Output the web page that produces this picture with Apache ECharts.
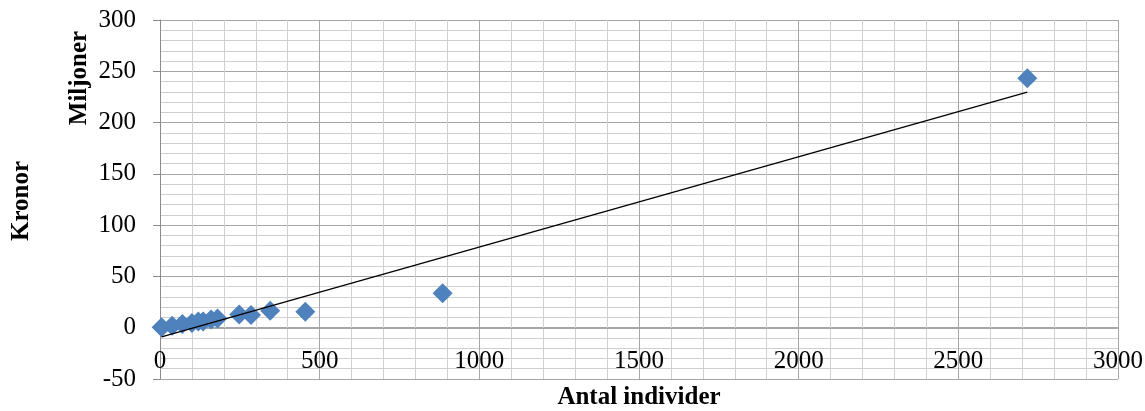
<!DOCTYPE html>
<html>
<head>
<meta charset="utf-8">
<script src="https://cdn.jsdelivr.net/npm/echarts@6/dist/echarts.min.js"></script>
<style>
  html, body { margin: 0; padding: 0; background: #fff; }
  #chart { width: 1145px; height: 411px; }
</style>
</head>
<body>
<div id="chart"></div>
<script>
// Number of individuals vs. cost (million SEK)
const individer = [5, 38, 70, 100, 120, 135, 160, 180, 248, 285, 345, 455, 885, 2716];
const kronorMiljoner = [0.5, 2, 3.5, 4.5, 6, 6, 8, 9, 13, 12.5, 16.5, 15.5, 33.6, 243.2];
const xTicks = [0, 500, 1000, 1500, 2000, 2500, 3000];
const yTicks = [-50, 0, 50, 100, 150, 200, 250, 300];

// Least-squares linear trendline over the same points
function linearFit(xs, ys) {
  const n = xs.length;
  const mx = xs.reduce((a, b) => a + b, 0) / n;
  const my = ys.reduce((a, b) => a + b, 0) / n;
  let sxy = 0, sxx = 0;
  for (let i = 0; i < n; i++) {
    sxy += (xs[i] - mx) * (ys[i] - my);
    sxx += (xs[i] - mx) * (xs[i] - mx);
  }
  const k = sxy / sxx;
  return { k: k, m: my - k * mx };
}
const fit = linearFit(individer, kronorMiljoner);
const xMin = Math.min(...individer), xMax = Math.max(...individer);
const trend = [[xMin, fit.k * xMin + fit.m], [xMax, fit.k * xMax + fit.m]];

const points = individer.map((x, i) => [x, kronorMiljoner[i]]);

const FONT = 'Liberation Serif, Times New Roman, serif';
const majorLine = { show: true, lineStyle: { color: '#a6a6a6', width: 1 } };
const minorLine = { show: true, lineStyle: { color: '#d0d0d0', width: 1 } };

// plot area geometry; the horizontal axis sits on y = 0
const GRID = { left: 160, right: 27, top: 20, bottom: 32 };
const plotH = 411 - GRID.top - GRID.bottom;
const yMin = yTicks[0], yMax = yTicks[yTicks.length - 1];
const zeroOffset = -Math.round((0 - yMin) / (yMax - yMin) * plotH);

const chart = echarts.init(document.getElementById('chart'));
chart.setOption({
  animation: false,
  backgroundColor: '#ffffff',
  grid: Object.assign({ containLabel: false, outerBoundsMode: 'none' }, GRID),
  xAxis: {
    type: 'value',
    position: 'bottom',
    offset: zeroOffset,
    min: xTicks[0], max: xTicks[xTicks.length - 1], interval: 500,
    axisLine: { show: true, onZero: false, lineStyle: { color: '#a6a6a6' } },
    axisTick: { show: false },
    axisLabel: { color: '#000', fontFamily: FONT, fontSize: 25, margin: 21,
      formatter: v => xTicks.includes(v) ? String(v) : '' },
    splitLine: majorLine,
    minorTick: { show: false, splitNumber: 5 },
    minorSplitLine: minorLine
  },
  yAxis: {
    type: 'value',
    min: yMin, max: yMax, interval: 50,
    axisLine: { show: true, onZero: false, lineStyle: { color: '#8c8c8c' } },
    axisTick: { show: true, inside: false, length: 7, lineStyle: { color: '#8c8c8c' } },
    axisLabel: { color: '#000', fontFamily: FONT, fontSize: 25, margin: 24,
      formatter: v => yTicks.includes(v) ? String(v) : '' },
    splitLine: majorLine,
    minorTick: { show: false, splitNumber: 5 },
    minorSplitLine: minorLine
  },
  graphic: [
    { type: 'text', rotation: Math.PI / 2, x: 22, y: 201,
      style: { text: 'Kronor', font: 'bold 25px ' + FONT, fill: '#000', align: 'center', verticalAlign: 'middle' } },
    { type: 'text', rotation: Math.PI / 2, x: 80, y: 78,
      style: { text: 'Miljoner', font: 'bold 25px ' + FONT, fill: '#000', align: 'center', verticalAlign: 'middle' } },
    { type: 'text', x: 639, y: 398,
      style: { text: 'Antal individer', font: 'bold 25px ' + FONT, fill: '#000', align: 'center', verticalAlign: 'middle' } }
  ],
  series: [
    {
      type: 'scatter',
      data: points,
      symbol: 'diamond',
      symbolSize: [20, 20],
      itemStyle: { color: '#4f81bd', opacity: 1 },
      z: 2
    },
    {
      type: 'line',
      data: trend,
      showSymbol: false,
      symbol: 'none',
      lineStyle: { color: '#000', width: 1.3 },
      z: 3
    }
  ]
});
</script>
</body>
</html>
